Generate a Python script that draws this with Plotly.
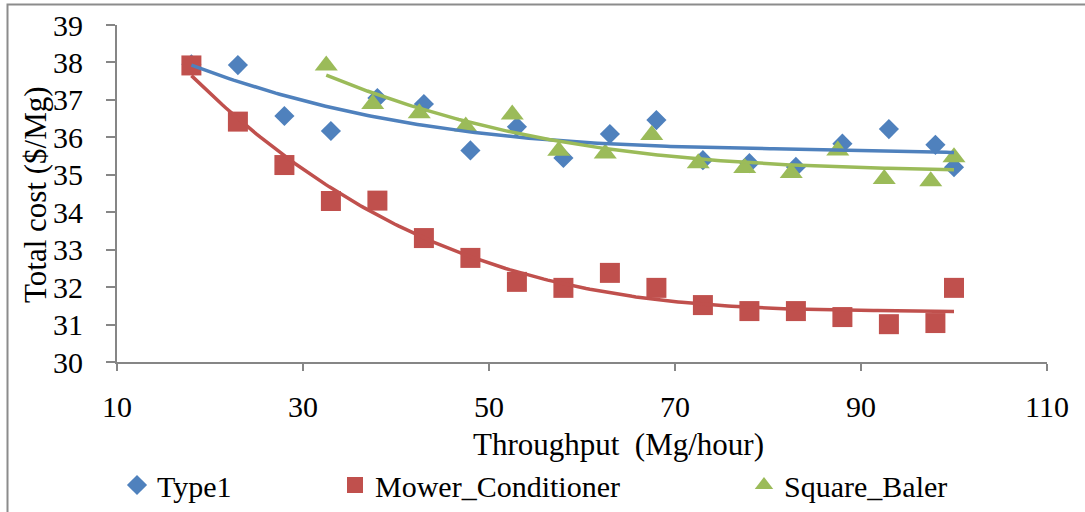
import numpy as np
import plotly.graph_objects as go

# Throughput (Mg/hour) and total cost ($/Mg) per machine type
type1_x = [18, 23, 28, 33, 38, 43, 48, 53, 58, 63, 68, 73, 78, 83, 88, 93, 98, 100]
type1_y = [37.95, 37.93, 36.57, 36.17, 37.05, 36.89, 35.65, 36.28, 35.45, 36.09,
           36.46, 35.39, 35.31, 35.21, 35.83, 36.22, 35.80, 35.20]

mower_x = [18, 23, 28, 33, 38, 43, 48, 53, 58, 63, 68, 73, 78, 83, 88, 93, 98, 100]
mower_y = [37.92, 36.42, 35.26, 34.30, 34.31, 33.31, 32.78, 32.14, 31.98, 32.38,
           31.98, 31.52, 31.36, 31.36, 31.20, 31.01, 31.04, 31.98]

baler_x = [32.5, 37.5, 42.5, 47.5, 52.5, 57.5, 62.5, 67.5, 72.5, 77.5, 82.5, 87.5,
           92.5, 97.5, 100]
baler_y = [37.92, 36.89, 36.64, 36.29, 36.61, 35.64, 35.57, 36.06, 35.31, 35.18,
           35.05, 35.65, 34.89, 34.83, 35.47]

series = [
    ("Type1", type1_x, type1_y, "#4F81BD", "diamond", 15.5, "legend"),
    ("Mower_Conditioner", mower_x, mower_y, "#C0504D", "square", 20, "legend2"),
    ("Square_Baler", baler_x, baler_y, "#9BBB59", "triangle-up", 20, "legend3"),
]

FONT = "Liberation Serif, Times New Roman, serif"
TREND_DEG = 3

fig = go.Figure()

# scatter markers
for name, xs, ys, color, symbol, size, leg in series:
    fig.add_trace(go.Scatter(
        x=xs, y=ys, mode="markers", name=name, legend=leg,
        marker=dict(symbol=symbol, size=size, color=color, line=dict(width=0)),
    ))

# polynomial trendlines drawn over the markers
for name, xs, ys, color, symbol, size, leg in series:
    coef = np.polyfit(xs, ys, TREND_DEG)
    xf = np.linspace(min(xs), max(xs), 200)
    fig.add_trace(go.Scatter(
        x=xf, y=np.polyval(coef, xf), mode="lines", showlegend=False,
        line=dict(color=color, width=3.5), hoverinfo="skip",
    ))

axis_color = "#868686"
fig.update_xaxes(
    range=[10, 110], tick0=10, dtick=20, showgrid=False, zeroline=False,
    showline=True, linecolor=axis_color, linewidth=1.8,
    ticks="outside", ticklen=7, tickwidth=1.8, tickcolor=axis_color,
    ticklabelstandoff=10, tickfont=dict(family=FONT, size=30, color="black"),
)
fig.update_yaxes(
    range=[30, 39], dtick=1, showgrid=False, zeroline=False,
    showline=True, linecolor=axis_color, linewidth=1.8,
    ticks="outside", ticklen=9, tickwidth=1.8, tickcolor=axis_color,
    ticklabelstandoff=17, tickfont=dict(family=FONT, size=30, color="black"),
)

# plot area: 117..1047 px horizontally, 25..362 px vertically
L, R, T, B = 117, 38, 25, 150
W, H = 1085, 512
pw, ph = W - L - R, H - T - B


def px(xp):
    return (xp - L) / pw


def py(yp):
    return (H - B - yp) / ph


leg_common = dict(orientation="h", yanchor="middle", xanchor="left",
                  font=dict(family=FONT, size=30, color="black"),
                  bgcolor="rgba(0,0,0,0)", borderwidth=0)

fig.update_layout(
    width=W, height=H,
    margin=dict(l=L, r=R, t=T, b=B, autoexpand=False),
    paper_bgcolor="white", plot_bgcolor="white",
    font=dict(family=FONT, color="black"),
    legend=dict(x=px(117), y=py(485), **leg_common),
    legend2=dict(x=px(335), y=py(485), **leg_common),
    legend3=dict(x=px(744), y=py(485), **leg_common),
    shapes=[dict(type="rect", xref="paper", yref="paper",
                 x0=px(7.5), x1=px(1100), y0=py(530), y1=py(4.5),
                 line=dict(color="#8C8C8C", width=2), fillcolor="rgba(0,0,0,0)",
                 layer="below")],
    annotations=[
        dict(text="Throughput  (Mg/hour)", xref="paper", yref="paper",
             x=px(618), y=py(444), xanchor="center", yanchor="middle",
             showarrow=False, font=dict(family=FONT, size=31, color="black")),
        dict(text="Total cost ($/Mg)", xref="paper", yref="paper",
             x=px(35), y=py(195), xanchor="center", yanchor="middle",
             textangle=-90, showarrow=False,
             font=dict(family=FONT, size=31, color="black")),
    ],
)

fig.write_html("out.html")
